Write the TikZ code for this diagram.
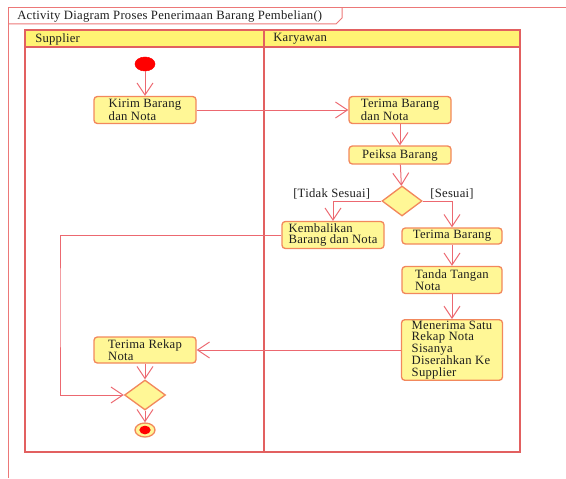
\documentclass[tikz,border=0pt]{standalone}
\usepackage{fontspec}
\setmainfont{Liberation Serif}[LetterSpace=2]
\usepackage{tikz}
\usetikzlibrary{shapes.geometric,arrows.meta}

\definecolor{framered}{RGB}{236,120,120}
\definecolor{lanered}{RGB}{226,96,96}
\definecolor{headfill}{RGB}{255,243,115}
\definecolor{actfill}{RGB}{255,247,150}
\definecolor{actborder}{RGB}{242,136,92}
\definecolor{flowred}{RGB}{236,104,112}
\definecolor{textgray}{RGB}{30,30,30}

\tikzset{
  action/.style={rectangle, rounded corners=2.5pt, draw=actborder, fill=actfill,
    line width=1pt, align=left, inner sep=1pt, text=textgray,
    minimum width=76.5pt, minimum height=20.25pt},
  decision/.style={diamond, draw=actborder, fill=actfill, line width=1pt,
    inner sep=0pt, minimum width=30pt, minimum height=22.5pt},
  flow/.style={draw=flowred, line width=0.75pt,
    -{Straight Barb[length=9pt,width=12pt]}},
  guard/.style={text=textgray, inner sep=1pt},
}

\begin{document}
\begin{tikzpicture}[x=0.75pt,y=-0.75pt,font=\fontsize{9.5}{8.5}\selectfont]
  \useasboundingbox (0,0) rectangle (566,478);
  % Draw the frame
  \draw[framered, line width=0.75pt] (8,478) -- (8,8) -- (566,8);
  \draw[framered, line width=0.75pt] (8,24) -- (336,24) -- (342,18) -- (342,8);
  \node[anchor=west, inner sep=0pt, text=textgray] (title) at (17,16) {Activity Diagram Proses Penerimaan Barang Pembelian()};
  % Draw the swimlanes
  \fill[headfill] (25,30) rectangle (520,47);
  \draw[lanered, line width=1.1pt] (25,30) rectangle (520,452);
  \draw[lanered, line width=1.1pt] (25,47) -- (520,47);
  \draw[lanered, line width=1.5pt] (264,30) -- (264,452);
  \node[anchor=west, inner sep=0pt, text=textgray] (supplier) at (35,39) {Supplier};
  \node[anchor=west, inner sep=0pt, text=textgray] (karyawan) at (273,39) {Karyawan};
  % Draw the actions
  \node[ellipse, fill=red, draw=red, minimum width=15pt, minimum height=10.5pt, inner sep=0pt] (start) at (145,64) {};
  \node[action] (kirim) at (145,110) {Kirim Barang\\dan Nota};
  \node[action] (terima) at (400,110) {Terima Barang\\dan Nota};
  \node[action, minimum height=13.5pt] (periksa) at (400,155) {Peiksa Barang};
  \node[decision] (cek) at (402,201) {};
  \node[action] (kembali) at (333,235) {Kembalikan\\Barang dan Nota};
  \node[action, minimum width=75pt, minimum height=12pt] (terimabrg) at (452,236) {Terima Barang};
  \node[action, minimum width=75pt] (tanda) at (452,280) {Tanda Tangan\\Nota};
  \node[action, minimum width=75.75pt, minimum height=44.25pt] (rekap) at (452,350) {Menerima Satu\\Rekap Nota\\Sisanya\\Diserahkan Ke\\Supplier};
  \node[action, minimum height=19.5pt] (terimarekap) at (145,350) {Terima Rekap\\Nota};
  \node[decision, minimum width=30.75pt] (gabung) at (145,395) {};
  \node[ellipse, fill=actfill, draw=actborder, line width=1pt, minimum width=15pt, minimum height=10.5pt, inner sep=0pt] (selesai) at (145,430) {};
  \node[ellipse, fill=red, minimum width=8.5pt, minimum height=6.5pt, inner sep=0pt] (selesaiin) at (selesai) {};
  \coordinate (kiri) at (60,300);
  % Draw the flows
  \draw[flow] (start) -- (kirim);
  \draw[flow] (kirim) -- (terima);
  \draw[flow] (terima) -- (periksa);
  \draw[flow] (periksa) -- (cek);
  \draw[flow] (cek.west) -| node[guard, above, pos=0.5, xshift=-1pt] {[Tidak Sesuai]} (kembali.north);
  \draw[flow] (cek.east) -| node[guard, above, pos=0.5] {[Sesuai]} (terimabrg.north);
  \draw[flow] (terimabrg) -- (tanda);
  \draw[flow] (tanda) -- (rekap);
  \draw[flow] (rekap) -- (terimarekap);
  \draw[flow] (kembali.west) -| (kiri) |- (gabung.west);
  \draw[flow] (terimarekap) -- (gabung);
  \draw[flow] (gabung) -- (selesai);
\end{tikzpicture}
\end{document}
